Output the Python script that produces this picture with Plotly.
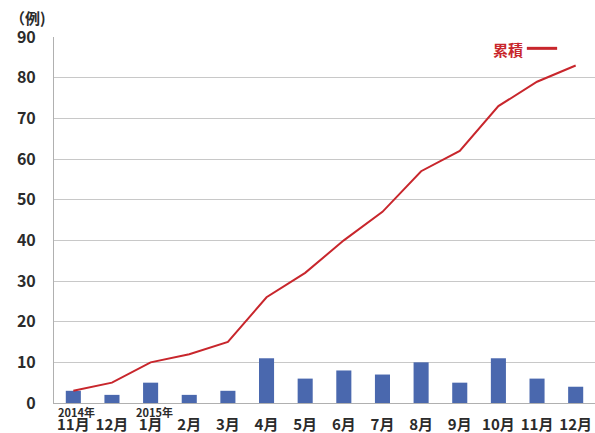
import plotly.graph_objects as go

# Monthly case counts, Nov 2014 – Dec 2015
months = ["11月", "12月", "1月", "2月", "3月", "4月", "5月", "6月",
          "7月", "8月", "9月", "10月", "11月", "12月"]
monthly_cases = [3, 2, 5, 2, 3, 11, 6, 8, 7, 10, 5, 11, 6, 4]
# Running total of cases
cumulative_cases = [3, 5, 10, 12, 15, 26, 32, 40, 47, 57, 62, 73, 79, 83]
# Year markers shown above the first month of each year
year_labels = {0: "2014年", 2: "2015年"}
y_ticks = list(range(0, 91, 10))

FONT = "Noto Sans CJK JP"
TEXT_COLOR = "#2b2b2b"
RED = "#c8262c"
BLUE = "#4a68ae"

x_idx = list(range(len(months)))

fig = go.Figure()
fig.add_trace(go.Bar(
    x=x_idx, y=monthly_cases, marker=dict(color=BLUE, line=dict(width=0)),
    width=0.39, showlegend=False,
))
fig.add_trace(go.Scatter(
    x=x_idx, y=cumulative_cases, mode="lines",
    line=dict(color=RED, width=2), showlegend=False,
))

fig.update_layout(
    width=595, height=433,
    margin=dict(l=54, r=0, t=37, b=30),
    paper_bgcolor="white", plot_bgcolor="white",
    font=dict(family=FONT, color=TEXT_COLOR),
    xaxis=dict(
        range=[-0.5, len(months) - 0.5],
        tickmode="array", tickvals=x_idx, ticktext=months,
        tickfont=dict(family=FONT, size=15, color=TEXT_COLOR, weight="bold"),
        showgrid=False, showline=True, linecolor="#b0b0b0", linewidth=1,
        ticks="", ticklabelstandoff=8, zeroline=False, automargin=False,
    ),
    yaxis=dict(
        range=[0, 90], tickmode="array", tickvals=y_ticks,
        tickfont=dict(family=FONT, size=16, color=TEXT_COLOR, weight="bold"),
        showgrid=True, gridcolor="#c8c8c8", gridwidth=1,
        showline=True, linecolor="#b0b0b0", linewidth=1,
        ticks="", ticklabelstandoff=14, zeroline=False, automargin=False,
    ),
)

# Unit label above the y axis
fig.add_annotation(
    text="（例)", xref="paper", yref="paper", x=0, y=1, xanchor="left",
    yanchor="bottom", xshift=-46, yshift=7, showarrow=False,
    font=dict(family=FONT, size=15, color=TEXT_COLOR, weight="bold"),
)

# Year markers under the month labels
for i, label in year_labels.items():
    fig.add_annotation(
        text=label, x=i, xref="x", yref="paper", y=0, xanchor="left",
        yanchor="top", xshift=-17, yshift=1, showarrow=False,
        font=dict(family=FONT, size=11, color=TEXT_COLOR, weight="bold"),
    )

# Series key for the cumulative line
fig.add_annotation(
    text="累積", xref="paper", yref="paper", x=0.8706, y=0.967,
    xanchor="right", yanchor="middle", showarrow=False,
    font=dict(family=FONT, size=15, color=RED, weight="bold"),
)
fig.add_shape(
    type="line", xref="paper", yref="paper", x0=0.874, x1=0.93,
    y0=0.969, y1=0.969, line=dict(color=RED, width=3),
)

fig.write_html("out.html")
